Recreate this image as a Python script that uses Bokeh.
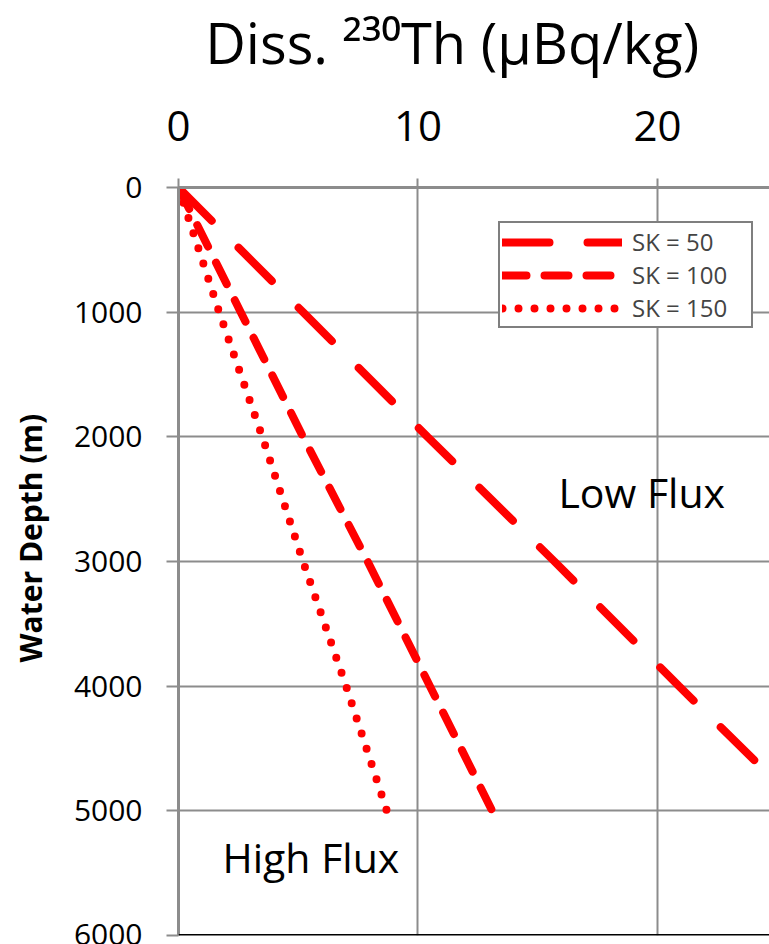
import math
from bokeh.plotting import figure
from bokeh.models import Range1d, Label, Legend, LegendItem, FixedTicker, Span
from bokeh.embed import file_html
from bokeh.resources import INLINE

# ---- data ----
depth = [0, 1000, 2000, 3000, 4000, 5000]
th_sk50 = [0, 5.2, 10.4, 15.7, 20.9, 26.2]
th_sk100 = [0, 2.6, 5.2, 7.9, 10.5, 13.1]
th_sk150 = [0, 1.7, 3.5, 5.2, 7.0, 8.7]
series_labels = ["SK = 50", "SK = 100", "SK = 150"]
x_ticks = [0, 10, 20]
y_ticks = [0, 1000, 2000, 3000, 4000, 5000, 6000]
x_max = 24.68
y_max = 6000
x_title = "Diss. \u00b2\u00b3\u2070Th (\u03bcBq/kg)"
y_title = "Water Depth (m)"

FONT = "Open Sans"
GRID = "#8c8c8c"

p = figure(width=769, height=944,
           x_range=Range1d(0, x_max), y_range=Range1d(y_max, 0),
           x_axis_location="above",
           output_backend="svg", toolbar_location=None,
           min_border_left=178, min_border_right=0,
           min_border_top=185, min_border_bottom=9)
p.outline_line_color = None
p.background_fill_color = "white"
p.border_fill_color = "white"

xa = p.xaxis[0]
xa.ticker = FixedTicker(ticks=x_ticks)
xa.major_label_text_font = FONT
xa.major_label_text_font_size = "42px"
xa.major_label_text_color = "black"
xa.axis_line_color = GRID
xa.axis_line_width = 3
xa.major_tick_line_color = GRID
xa.major_tick_line_width = 2
xa.major_tick_in = 0
xa.major_tick_out = 9
xa.minor_tick_in = 0
xa.minor_tick_out = 0
xa.major_label_standoff = 38
# trailing no-break spaces nudge the centred title to the left, as in the reference
xa.axis_label = x_title + "\u00a0" * 3
xa.axis_label_text_font = FONT
xa.axis_label_text_font_size = "56px"
xa.axis_label_text_font_style = "normal"
xa.axis_label_text_color = "black"
xa.axis_label_standoff = 28

ya = p.yaxis[0]
ya.ticker = FixedTicker(ticks=y_ticks)
ya.major_label_text_font = FONT
ya.major_label_text_font_size = "30px"
ya.major_label_text_color = "black"
ya.axis_line_color = GRID
ya.axis_line_width = 3
ya.major_tick_line_color = GRID
ya.major_tick_line_width = 2
ya.major_tick_in = 0
ya.major_tick_out = 12
ya.minor_tick_in = 0
ya.minor_tick_out = 0
ya.major_label_standoff = 24
# leading no-break spaces nudge the centred label towards the top, as in the reference
ya.axis_label = "\u00a0" * 6 + y_title
ya.axis_label_text_font = FONT
ya.axis_label_text_font_size = "30px"
ya.axis_label_text_font_style = "bold"
ya.axis_label_text_color = "black"
ya.axis_label_standoff = 20

p.xgrid.ticker = FixedTicker(ticks=x_ticks)
p.ygrid.ticker = FixedTicker(ticks=y_ticks)
p.grid.grid_line_color = GRID
p.grid.grid_line_width = 2

p.add_layout(Span(location=y_max, dimension="width", line_color="black", line_width=3))

r50 = p.line(th_sk50, depth, line_color="#ff0000", line_width=8,
             line_dash="47 38", line_cap="round")
r100 = p.line(th_sk100, depth, line_color="#ff0000", line_width=8,
              line_dash="24 18", line_cap="round")
r150 = p.line(th_sk150, depth, line_color="#ff0000", line_width=8,
              line_dash="0 16", line_cap="round")

legend = Legend(items=[LegendItem(label=series_labels[0], renderers=[r50]),
                       LegendItem(label=series_labels[1], renderers=[r100]),
                       LegendItem(label=series_labels[2], renderers=[r150])],
                location=(320, 607), orientation="vertical",
                border_line_color="black", border_line_width=2,
                background_fill_color="white", background_fill_alpha=1.0,
                padding=2, spacing=0, margin=0,
                glyph_width=120, glyph_height=32, label_height=32,
                label_width=117, label_standoff=10,
                label_text_font=FONT, label_text_font_size="24px",
                label_text_baseline="middle")
p.add_layout(legend)


# helpers converting reference pixel positions into data coordinates
def X(px):
    return (px - 178) / 23.95


def Y(py):
    return (py - 185) * 8.0


def add_label(text, px, py, size):
    p.add_layout(Label(x=X(px), y=Y(py), text=text, text_font=FONT,
                       text_font_size=size, text_align="left",
                       text_baseline="alphabetic", text_color="black"))


# annotations inside the plot
add_label("Low Flux", 558, 490, "41px")
add_label("High Flux", 222, 856, "41px")

open("out.html", "w").write(file_html(p, INLINE))
